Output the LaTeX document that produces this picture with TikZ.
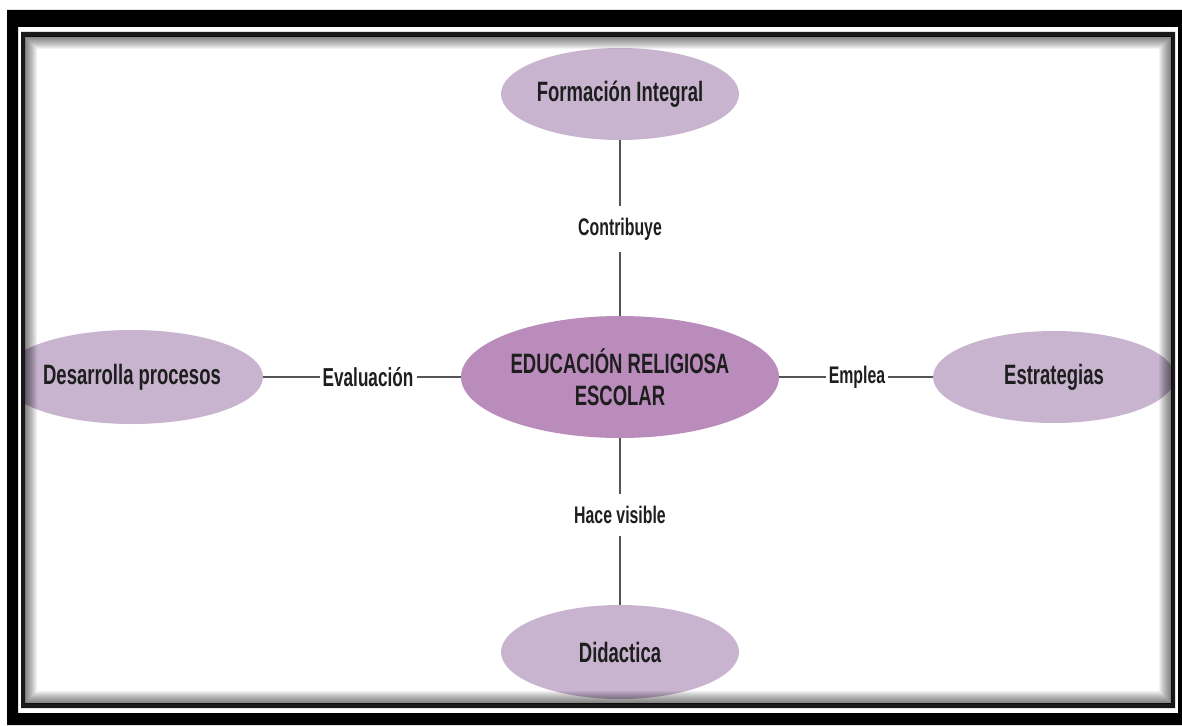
\documentclass[tikz,border=0pt]{standalone}
\usepackage{fontspec}
\setmainfont{Liberation Sans}[FakeStretch=0.66]
\usetikzlibrary{shapes}

\definecolor{lila}{HTML}{C9B4CF}
\definecolor{lilaoscuro}{HTML}{B98CBB}
\definecolor{linea}{HTML}{555555}
\definecolor{letra}{HTML}{1E1E1E}

\begin{document}
\begin{tikzpicture}[x=1pt,y=-1pt,
      concepto/.style={ellipse,fill=lila,inner xsep=-8pt,inner ysep=0pt,text=letra,
        font=\bfseries\fontsize{28}{32}\selectfont,align=center},
      enlace/.style={text=letra,font=\bfseries\fontsize{24}{28}\selectfont,
        inner xsep=3pt,inner ysep=12pt},
      conector/.style={draw=linea,line width=1.5pt}]
  \useasboundingbox (0,0) rectangle (1182,725);
  % conceptos
  \begin{scope}
    \clip (25,37) rectangle (1171,703);
    \node[concepto,fill=lilaoscuro,minimum width=318pt,minimum height=122pt] (ere) at (620,377) {EDUCACIÓN RELIGIOSA\\ESCOLAR};
    \node[concepto,minimum width=238pt,minimum height=92pt] (formacion) at (620,94) {Formación Integral};
    \node[concepto,minimum width=262pt,minimum height=94pt] (procesos) at (132,377) {Desarrolla procesos};
    \node[concepto,minimum width=242pt,minimum height=92pt] (estrategias) at (1054,377) {Estrategias};
    \node[concepto,minimum width=238pt,minimum height=94pt] (didactica) at (620,652) {Didactica};
  \end{scope}
  % enlaces
  \node[enlace] (contribuye) at (620,229) {Contribuye};
  \node[enlace,font=\bfseries\fontsize{26}{30}\selectfont] (evaluacion) at (368,377) {Evaluación};
  \node[enlace] (emplea) at (857,377) {Emplea};
  \node[enlace] (hace) at (620,515) {Hace visible};
  \draw[conector] (formacion.south) -- (contribuye.north);
  \draw[conector] (contribuye.south) -- (ere.north);
  \draw[conector] (ere.south) -- (hace.north);
  \draw[conector] (hace.south) -- (didactica.north);
  \draw[conector] (procesos.east) -- (evaluacion.west);
  \draw[conector] (evaluacion.east) -- (ere.west);
  \draw[conector] (ere.east) -- (emplea.west);
  \draw[conector] (emplea.east) -- (estrategias.west);
  % marco
  \fill[black,even odd rule] (7,10) rectangle (1182,725) (18,27) rectangle (1178,713);
  \fill[black!90,even odd rule] (21,32) rectangle (1175,708) (25,37) rectangle (1171,703);
  \foreach \i in {1,...,12}
    \fill[black,opacity=0.05,even odd rule] (25,37) rectangle (1171,703)
      (25+\i,37+\i) rectangle (1171-\i,703-\i);
\end{tikzpicture}
\end{document}
